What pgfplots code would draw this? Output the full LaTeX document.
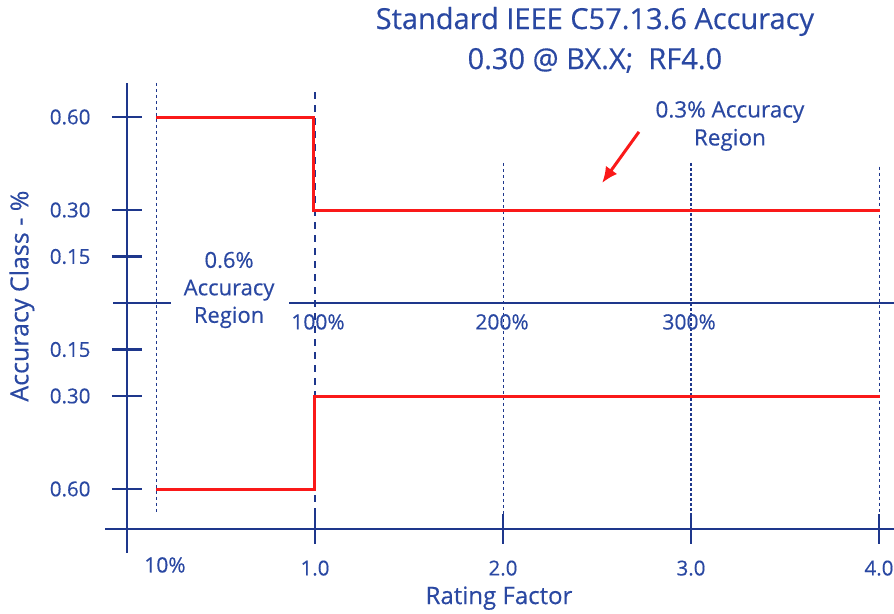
\documentclass[border=0pt]{standalone}
\usepackage{pgfplots}
\pgfplotsset{compat=1.18}
\usetikzlibrary{arrows.meta}
\usepackage{fontspec}
\setmainfont{Open Sans}[FakeBold=0.4]
\definecolor{geblue}{RGB}{42,72,162}
\definecolor{axblue}{RGB}{30,55,140}
\definecolor{gered}{RGB}{250,25,25}
\begin{document}
\begin{tikzpicture}
\useasboundingbox (-127pt,-310pt) rectangle (767pt,303pt);
\begin{axis}[
    x=188pt, y=310pt,
    anchor=origin, at={(0pt,0pt)},
    xmin=0, xmax=4.08, ymin=-0.729, ymax=0.71,
    axis lines*=left,
    axis line style={axblue, line width=2.4pt},
    clip=false,
    tick align=center,
    major tick length=30pt,
    xtick={1,2,3,4}, xticklabels={1.0,2.0,3.0,4.0},
    ytick={-0.6,-0.3,-0.15,0.15,0.3,0.6},
    yticklabels={0.60,0.30,0.15,0.15,0.30,0.60},
    tick style={axblue, line width=2.2pt},
    ticklabel style={font=\fontsize{20.5}{20.5}\selectfont, text=geblue},
    yticklabel style={xshift=-18pt},
    xticklabel style={yshift=-13pt},
    xlabel={Rating Factor},
    ylabel={Accuracy Class - \%},
    xlabel style={at={(axis description cs:0.485,-0.155)}, anchor=center,
        font=\fontsize{24}{24}\selectfont, text=geblue},
    ylabel style={at={(axis description cs:-0.137,0.522)}, anchor=center, rotate=0,
        font=\fontsize{25}{25}\selectfont, text=geblue},
    title={Standard IEEE C57.13.6 Accuracy\\0.30 @ BX.X;\ \ RF4.0},
    title style={at={(axis description cs:0.61,1.083)}, anchor=center, align=center,
        font=\fontsize{29}{40}\selectfont, text=geblue},
]
% guide lines
\addplot[axblue, line width=0.9pt, dash pattern=on 3pt off 3pt, forget plot] coordinates {(0.154,0.71) (0.154,-0.677)};
\addplot[axblue, line width=2pt, dash pattern=on 7pt off 6pt, forget plot] coordinates {(1,0.68) (1,-0.729)};
\addplot[axblue, line width=0.9pt, dash pattern=on 3pt off 3pt, forget plot] coordinates {(2,0.452) (2,-0.729)};
\addplot[axblue, line width=1.2pt, dash pattern=on 3pt off 2pt, forget plot] coordinates {(3,0.452) (3,-0.729)};
\addplot[axblue, line width=0.9pt, dash pattern=on 3pt off 3pt, forget plot] coordinates {(4,0.44) (4,-0.729)};
% middle line and axis extensions
\addplot[axblue, line width=2pt, forget plot] coordinates {(-0.074,0) (0.234,0)};
\addplot[axblue, line width=2pt, forget plot] coordinates {(0.862,0) (4.08,0)};
\addplot[axblue, line width=2.4pt, forget plot] coordinates {(-0.117,-0.729) (0,-0.729)};
\addplot[axblue, line width=2.4pt, forget plot] coordinates {(0,-0.729) (0,-0.806)};
% accuracy limits
\addplot[gered, line width=3pt] coordinates {(0.154,0.6) (0.99,0.6) (0.99,0.3) (4.005,0.3)};
\addplot[gered, line width=3pt] coordinates {(0.154,-0.6) (0.995,-0.6) (0.995,-0.3) (4.005,-0.3)};
\addplot[gered, line width=3pt, -{Latex[length=16pt,width=14pt]}] coordinates {(2.723,0.552) (2.527,0.387)};
% annotations
\node[text=geblue, font=\fontsize{22}{27.5}\selectfont, align=center] at (axis cs:0.543,0.042) {0.6\%\\Accuracy\\Region};
\node[text=geblue, font=\fontsize{22.5}{28}\selectfont, align=center] at (axis cs:3.207,0.571) {0.3\% Accuracy\\Region};
\node[text=geblue, font=\fontsize{21}{21}\selectfont] at (axis cs:1.016,-0.061) {100\%};
\node[text=geblue, font=\fontsize{21}{21}\selectfont] at (axis cs:1.995,-0.061) {200\%};
\node[text=geblue, font=\fontsize{21}{21}\selectfont] at (axis cs:2.99,-0.061) {300\%};
\node[text=geblue, font=\fontsize{21}{21}\selectfont] at (axis cs:0.202,-0.845) {10\%};
\end{axis}
\end{tikzpicture}
\end{document}
